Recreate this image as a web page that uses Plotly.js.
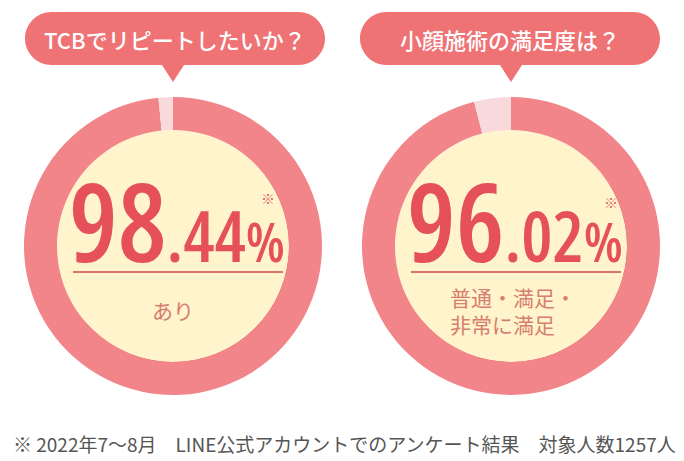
<!DOCTYPE html>
<html>
<head>
<meta charset="utf-8">
<script src="https://cdn.plot.ly/plotly-3.0.1.min.js"></script>
<style>html,body{margin:0;padding:0;background:#fff;}#chart{width:684px;height:461px;}</style>
</head>
<body>
<div id="chart"></div>
<script>
// ---- data ----
const questions = ["TCBでリピートしたいか？", "小顔施術の満足度は？"];
const sharePositive = [98.44, 96.02];
const answerLabels = ["あり", "普通・満足・<br>非常に満足"];
const footnote = "※ 2022年7〜8月　LINE公式アカウントでのアンケート結果　対象人数1257人";

// ---- layout helpers (pixel -> paper) ----
const W = 684, H = 461;
const X = v => v / W;
const Y = v => 1 - v / H;

const centers = [[173, 246], [511, 246]];
const R = 149, RIN = 116;
const ringColor = "#F1858A";
const restColor = "#F9DADC";
const bubbleColor = "#EF7275";
const numColor = "#E5505A";
const subColor = "#D77E72";
const cjk = "Noto Sans CJK JP, sans-serif";

const numStyle = { family: "Open Sans", big: 109, mid: 70, pct: 55, css: "font-stretch:75%;font-weight:600", y: 296 };
const starPos = [[268, 198], [611, 202]];

const data = [];
const shapes = [];
const annotations = [];

sharePositive.forEach((v, i) => {
  const [cx, cy] = centers[i];
  data.push({
    type: "pie",
    values: [v, 100 - v],
    labels: ["yes", "other"],
    sort: false,
    direction: "clockwise",
    rotation: 0,
    hole: RIN / R,
    textinfo: "none",
    hoverinfo: "none",
    showlegend: false,
    marker: { colors: [ringColor, restColor], line: { width: 0 } },
    domain: { x: [X(cx - R), X(cx + R)], y: [Y(cy + R), Y(cy - R)] }
  });
  shapes.push({ type: "circle", xref: "paper", yref: "paper", layer: "below",
    x0: X(cx - RIN + 4), x1: X(cx + RIN + 4), y0: Y(cy + RIN + 5), y1: Y(cy - RIN + 5),
    fillcolor: "#E4565E", line: { width: 0 } });
  shapes.push({ type: "circle", xref: "paper", yref: "paper", layer: "below",
    x0: X(cx - RIN), x1: X(cx + RIN), y0: Y(cy + RIN), y1: Y(cy - RIN),
    fillcolor: "#FFF4CB", line: { width: 0 } });
  shapes.push({ type: "line", xref: "paper", yref: "paper",
    x0: X(cx - 100), x1: X(cx + 110), y0: Y(272), y1: Y(272),
    line: { color: "#D9746E", width: 2 } });
  const bl = [25, 360][i], br = [325, 660][i], bt = 12, bb = 65, rr = 26.5;
  const tip = cx;
  const p = (x, y) => X(x).toFixed(5) + "," + Y(y).toFixed(5);
  const path = "M" + p(bl + rr, bt) + " L" + p(br - rr, bt) +
    " C" + p(br - rr + 14.6, bt) + " " + p(br, bt + 11.9) + " " + p(br, bt + rr) +
    " C" + p(br, bb - 11.9) + " " + p(br - rr + 14.6, bb) + " " + p(br - rr, bb) +
    " L" + p(tip + 11, bb) + " L" + p(tip, 82) + " L" + p(tip - 11, bb) +
    " L" + p(bl + rr, bb) +
    " C" + p(bl + rr - 14.6, bb) + " " + p(bl, bb - 11.9) + " " + p(bl, bb - rr) +
    " C" + p(bl, bt + 11.9) + " " + p(bl + rr - 14.6, bt) + " " + p(bl + rr, bt) + " Z";
  shapes.push({ type: "path", xref: "paper", yref: "paper", path: path,
    fillcolor: bubbleColor, line: { width: 0 } });
  annotations.push({ xref: "paper", yref: "paper", x: X((bl + br) / 2), y: Y(39),
    xanchor: "center", yanchor: "middle", showarrow: false, text: questions[i],
    font: { family: cjk, size: 22, color: "#FFFFFF", weight: 500 } });
  const s = numStyle;
  const parts = v.toFixed(2).split(".");
  annotations.push({ xref: "paper", yref: "paper", x: X(cx + 4), y: Y(s.y),
    xanchor: "center", yanchor: "bottom", showarrow: false,
    text: "<span style=\"" + s.css + "\">" + parts[0] + "</span>" +
      "<span style=\"font-size:" + s.mid + "px;" + s.css + "\">." + parts[1] + "</span>" +
      "<span style=\"font-size:" + s.pct + "px;" + s.css + "\">%</span>",
    font: { family: s.family, size: s.big, color: numColor } });
  annotations.push({ xref: "paper", yref: "paper", x: X(starPos[i][0]), y: Y(starPos[i][1]),
    xanchor: "center", yanchor: "middle", showarrow: false, text: "※",
    font: { family: cjk, size: 14, color: "#DE6068" } });
  annotations.push({ xref: "paper", yref: "paper",
    x: X(i === 0 ? cx : 448), y: Y(310),
    xanchor: i === 0 ? "center" : "left", yanchor: "middle", align: "left", showarrow: false,
    text: answerLabels[i],
    font: { family: cjk, size: 21, color: subColor } });
});

annotations.push({ xref: "paper", yref: "paper", x: X(11), y: Y(443),
  xanchor: "left", yanchor: "middle", showarrow: false, text: footnote,
  font: { family: cjk, size: 19, color: "#555555" } });

const layout = {
  width: W, height: H,
  margin: { l: 0, r: 0, t: 0, b: 0 },
  paper_bgcolor: "#FFFFFF", plot_bgcolor: "#FFFFFF",
  showlegend: false,
  shapes: shapes,
  annotations: annotations
};

Plotly.newPlot("chart", data, layout, { staticPlot: true, displayModeBar: false });
</script>
</body>
</html>
